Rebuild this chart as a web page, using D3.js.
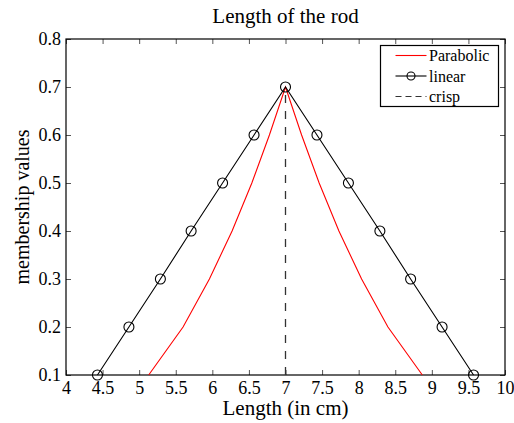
<!DOCTYPE html>
<html>
<head>
<meta charset="utf-8">
<script src="https://cdn.jsdelivr.net/npm/d3@7"></script>
<style>
  body { margin: 0; background: #fff; }
  svg text { font-family: "Liberation Serif", "Times New Roman", serif; fill: #000; }
  .tick line { stroke: #555; }
</style>
</head>
<body>
<div id="chart"></div>
<script>
// membership levels
var levels = [0.1, 0.2, 0.3, 0.4, 0.5, 0.6, 0.7];
// parabolic curve, left and right branches (x in cm)
var parabolicLeft = [5.13, 5.6, 5.96, 6.27, 6.54, 6.78, 7];
var parabolicRight = [7, 7.22, 7.46, 7.73, 8.04, 8.4, 8.87];
// linear triangle with markers
var linearX = [4.43, 4.86, 5.29, 5.71, 6.14, 6.57, 7, 7.43, 7.86, 8.29, 8.71, 9.14, 9.57];
var linearY = [0.1, 0.2, 0.3, 0.4, 0.5, 0.6, 0.7, 0.6, 0.5, 0.4, 0.3, 0.2, 0.1];
// crisp value
var crispX = [7, 7];
var crispY = [0.1, 0.7];

var xTicks = [4, 4.5, 5, 5.5, 6, 6.5, 7, 7.5, 8, 8.5, 9, 9.5, 10];
var yTicks = [0.1, 0.2, 0.3, 0.4, 0.5, 0.6, 0.7, 0.8];

var width = 514, height = 423;
var margin = {left: 66, right: 9, top: 39, bottom: 48};

var svg = d3.select("#chart").append("svg")
    .attr("width", width).attr("height", height);

var x = d3.scaleLinear().domain([4, 10]).range([margin.left, width - margin.right]);
var y = d3.scaleLinear().domain([0.1, 0.8]).range([height - margin.bottom, margin.top]);

var fmt = function (d) { return d3.format("")(d); };

// axes, ticks pointing inward
var gx = svg.append("g").attr("transform", "translate(0," + y(0.1) + ")")
    .call(d3.axisBottom(x).tickValues(xTicks).tickSize(-5).tickPadding(6).tickFormat(fmt));
var gy = svg.append("g").attr("transform", "translate(" + x(4) + ",0)")
    .call(d3.axisLeft(y).tickValues(yTicks).tickSize(-5).tickPadding(5).tickFormat(d3.format(".1f")));
var gt = svg.append("g").attr("transform", "translate(0," + y(0.8) + ")")
    .call(d3.axisTop(x).tickValues(xTicks).tickSize(-5).tickFormat(""));
var gr = svg.append("g").attr("transform", "translate(" + x(10) + ",0)")
    .call(d3.axisRight(y).tickValues(yTicks).tickSize(-5).tickFormat(""));

[gx, gy, gt, gr].forEach(function (g) {
    g.attr("font-family", null).attr("font-size", null);
    g.select(".domain").remove();
    g.selectAll("text").style("font-size", "18px");
});

// plot box
svg.append("rect")
    .attr("x", x(4)).attr("y", y(0.8))
    .attr("width", x(10) - x(4)).attr("height", y(0.1) - y(0.8))
    .attr("fill", "none").attr("stroke", "#000").attr("stroke-width", 1.2);

var line = d3.line().x(function (d) { return x(d[0]); }).y(function (d) { return y(d[1]); });

// parabolic
var parPts = parabolicLeft.map(function (v, i) { return [v, levels[i]]; })
    .concat(parabolicRight.map(function (v, i) { return [v, levels[levels.length - 1 - i]]; }));
svg.append("path").datum(parPts).attr("d", line)
    .attr("fill", "none").attr("stroke", "#ff0000").attr("stroke-width", 1.1);

// linear
var linPts = linearX.map(function (v, i) { return [v, linearY[i]]; });
svg.append("path").datum(linPts).attr("d", line)
    .attr("fill", "none").attr("stroke", "#000").attr("stroke-width", 1.1);
svg.selectAll(".mk").data(linPts).enter().append("circle")
    .attr("class", "mk")
    .attr("cx", function (d) { return x(d[0]); })
    .attr("cy", function (d) { return y(d[1]); })
    .attr("r", 5).attr("fill", "none").attr("stroke", "#000").attr("stroke-width", 1.1);

// crisp, dashed from the bottom up
var crispPts = [[crispX[0], crispY[0]], [crispX[1], crispY[1]]];
svg.append("path").datum(crispPts).attr("d", line)
    .attr("fill", "none").attr("stroke", "#333").attr("stroke-width", 1.3)
    .attr("stroke-dasharray", "8,8");

// title and labels
svg.append("text").attr("x", x(7)).attr("y", 23).attr("text-anchor", "middle")
    .style("font-size", "21px").text("Length of the rod");
svg.append("text").attr("x", x(7)).attr("y", 415).attr("text-anchor", "middle")
    .style("font-size", "21px").text("Length (in cm)");
svg.append("text").attr("transform", "translate(29," + ((y(0.1) + y(0.8)) / 2) + ") rotate(-90)")
    .attr("text-anchor", "middle").style("font-size", "20px").text("membership values");

// legend
var legend = svg.append("g").attr("transform", "translate(380.5,45.5)");
legend.append("rect").attr("width", 118).attr("height", 61)
    .attr("fill", "#fff").attr("stroke", "#000").attr("stroke-width", 1.2);
var items = [
    {name: "Parabolic", color: "#ff0000", dash: null, marker: false},
    {name: "linear", color: "#000", dash: null, marker: true},
    {name: "crisp", color: "#333", dash: "6,4", marker: false}
];
items.forEach(function (it, i) {
    var cy = 10 + i * 20.5;
    legend.append("line").attr("x1", 15).attr("x2", 46).attr("y1", cy).attr("y2", cy)
        .attr("stroke", it.color).attr("stroke-width", 1.1)
        .attr("stroke-dasharray", it.dash);
    if (it.marker) {
        legend.append("circle").attr("cx", 30.5).attr("cy", cy).attr("r", 4)
            .attr("fill", "none").attr("stroke", "#000").attr("stroke-width", 1.1);
    }
    legend.append("text").attr("x", 48.5).attr("y", cy).attr("dy", "0.35em")
        .style("font-size", "16px").text(it.name);
});
</script>
</body>
</html>
